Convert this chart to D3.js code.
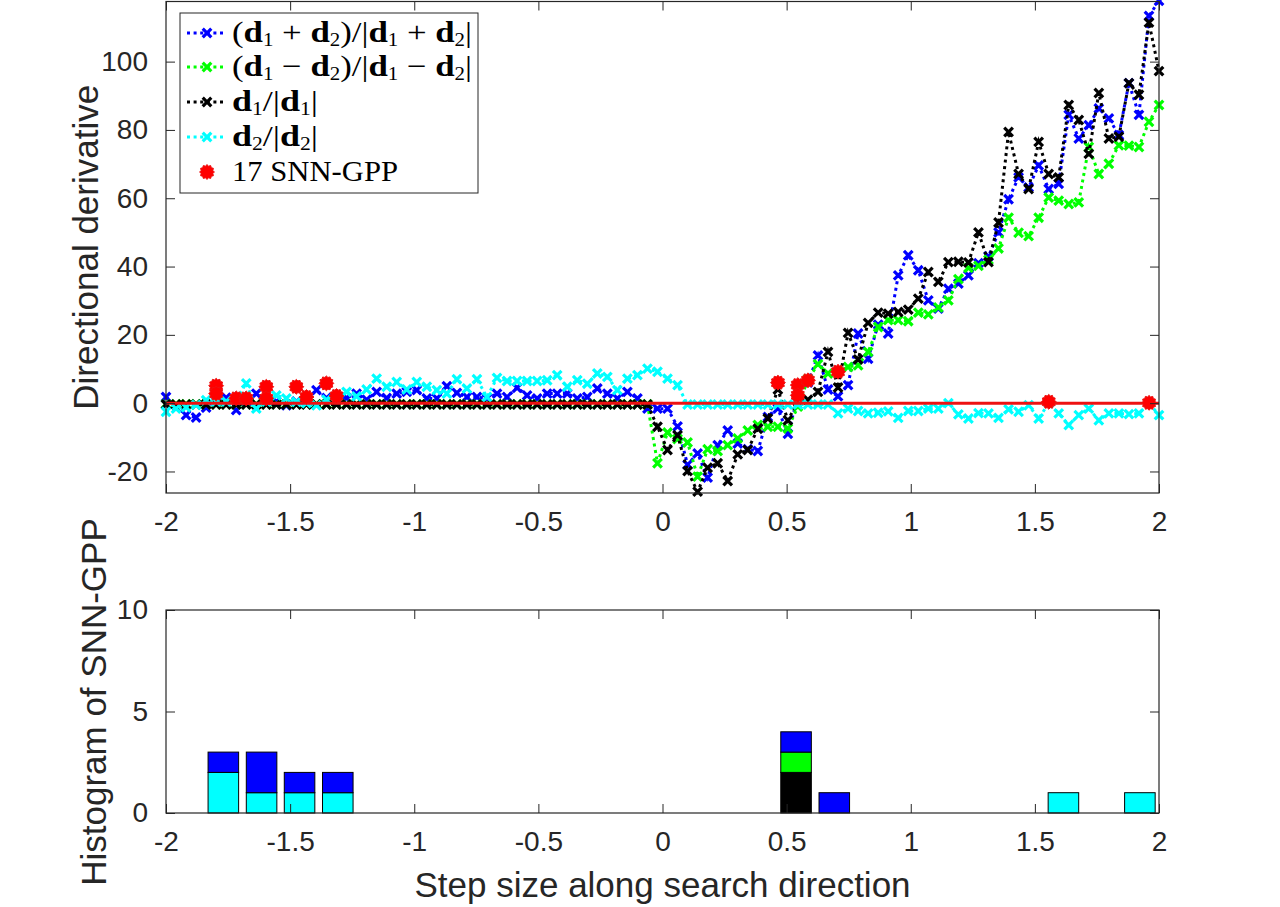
<!DOCTYPE html>
<html>
<head>
<meta charset="utf-8">
<script src="https://cdn.jsdelivr.net/npm/d3@7"></script>
<style>
  body { margin: 0; background: #fff; }
  svg { display: block; }
  text { font-family: "Liberation Sans", Arial, Helvetica, sans-serif; fill: #262626; }
</style>
</head>
<body>
<div id="chart"></div>
<script>
// step sizes along the search direction: linspace(-2, 2, 100)
const stepCount = 100;
const steps = d3.range(stepCount).map(k => -2 + 4 * k / (stepCount - 1));

// directional derivatives
const dirSum = [ // (d1+d2)/|d1+d2|
  1.8, -0.5, -3.5, -4.2, -1.3, 0.5, 1.6, -2, 0.5, 2.8,
  1, 0.5, -0.6, 0.5, 1, 3.8, 1.5, 1, 1.5, 2.8,
  1, 3.3, 1.5, 2.8, 3.3, 3.8, 1.4, 1.4, 5, 3,
  1.8, 1.8, 1.4, 2.8, 1.8, 4.5, 2.3, 1.4, 2.8, 2.8,
  2.8, 1.4, 1.8, 4.3, 2.8, 1.4, 3.3, 1.4, -1.6, -1.6,
  -1.6, -6.8, -18, -14.7, -21.8, -12.3, -8, -11.8, -13.5, -14,
  -4, -1.6, -9, 2, 6, 14, 4, 2, 5.3, 20.4,
  13, 23, 20.4, 37.4, 43.3, 38.9, 30.1, 27.7, 33.5, 35,
  37.4, 41, 43, 50, 59.7, 66.1, 63.2, 69.6, 62.7, 64.2,
  84.4, 77.5, 81.4, 86.3, 83.4, 78.5, 93.7, 84.4, 113.4, 117.8
];
const dirDiff = [ // (d1-d2)/|d1-d2|
  -0.3, -0.3, -0.3, -0.3, -0.3, -0.3, -0.3, -0.3, -0.3, -0.3,
  -0.3, -0.3, -0.3, -0.3, -0.3, -0.3, -0.3, -0.3, -0.3, -0.3,
  -0.3, -0.3, -0.3, -0.3, -0.3, -0.3, -0.3, -0.3, -0.3, -0.3,
  -0.3, -0.3, -0.3, -0.3, -0.3, -0.3, -0.3, -0.3, -0.3, -0.3,
  -0.3, -0.3, -0.3, -0.3, -0.3, -0.3, -0.3, -0.3, -0.3, -17.6,
  -8.6, -10.5, -11.5, -21.5, -13.5, -14, -12.3, -10.3, -8, -6.4,
  -6.9, -6.9, -7.4, -1, 7, 11.4, 8.7, 9.2, 10.6, 11.1,
  15, 22.3, 24.3, 24.3, 24, 26.5, 26, 28, 30.1, 36.3,
  39.6, 40.2, 42, 45.3, 54.3, 49.9, 48.9, 54.3, 60.2, 59.3,
  58.3, 58.8, 75, 67.1, 70.1, 75.5, 75.4, 75, 82.4, 87.3
];
const dirD1 = [ // d1/|d1|
  -0.4, -0.4, -0.4, -0.4, -0.4, -0.4, -0.4, -0.4, -0.4, -0.4,
  -0.4, -0.4, -0.4, -0.4, -0.4, -0.4, -0.4, -0.4, -0.4, -0.4,
  -0.4, -0.4, -0.4, -0.4, -0.4, -0.4, -0.4, -0.4, -0.4, -0.4,
  -0.4, -0.4, -0.4, -0.4, -0.4, -0.4, -0.4, -0.4, -0.4, -0.4,
  -0.4, -0.4, -0.4, -0.4, -0.4, -0.4, -0.4, -0.4, -0.4, -6.9,
  -13.7, -9.4, -19.9, -25.9, -18.9, -17.6, -22.8, -15, -13.7, -7.5,
  -4.5, 4, -5, 0.5, 1, 3.3, 15, 4.6, 20.6, 12.8,
  23.5, 26.5, 26.2, 26.7, 27.4, 30.6, 38.4, 35.5, 41.3, 41.4,
  41.2, 50, 41.3, 52.9, 79.4, 67.1, 62.7, 76.5, 67.1, 66.1,
  87.3, 82.9, 73, 90.8, 77.5, 78, 93.7, 90.3, 111.4, 97.2
];
const dirD2 = [ // d2/|d2|
  -2.5, -1.6, -1.2, -0.5, 0.9, 0.5, 0.5, 1, 5.8, -1.6,
  0.5, 2.3, 1.4, 0.4, 0, -0.6, 1, 2, 3.3, 2,
  4, 7.2, 4.8, 6.2, 4, 6.2, 4.8, 3.8, 2.8, 7,
  4.3, 7, 1.8, 7.4, 6.5, 6.5, 6.5, 6.5, 6.7, 8.2,
  4.8, 6.7, 5.7, 8.7, 7.7, 3.8, 7.2, 8.2, 10.1, 9.2,
  7.2, 5.3, -0.4, -0.4, -0.4, -0.4, -0.4, -0.4, -0.4, -0.4,
  -0.4, -0.4, -0.4, -0.4, -0.4, -0.4, -0.4, -3, -1.6, -2.3,
  -3, -2.8, -2.4, -4.3, -2.3, -2.3, -1.6, -1.6, 0, -3.3,
  -4.5, -2.9, -3, -4.3, -1.8, -2.5, -0.6, -4.5, 0, -3,
  -6.4, -3.5, -1.6, -5, -3, -3, -3.2, -3, 0, -3.5
];

// the 17 SNN-GPP locations
const snnStep = [-1.798, -1.798, -1.717, -1.677, -1.596, -1.596, -1.475, -1.434, -1.354, -1.313,
                 0.465, 0.545, 0.545, 0.586, 0.707, 1.556, 1.960];
const snnVal = [5.1, 2.8, 1.4, 1.4, 4.8, 1.4, 4.8, 1.8, 5.8, 2.1,
                6.0, 5.3, 2.3, 6.7, 9.2, 0.4, 0.1];

// histogram (26 bins over [-2, 2], only non-empty bins listed)
const histCenters = [-1.769, -1.615, -1.462, -1.308, 0.538, 0.692, 1.615, 1.923];
const histD2 = [2, 1, 1, 1, 0, 0, 1, 1];
const histD1 = [0, 0, 0, 0, 2, 0, 0, 0];
const histDiff = [0, 0, 0, 0, 1, 0, 0, 0];
const histSum = [1, 2, 1, 1, 1, 1, 0, 0];
const binWidth = 4 / 26;

const xTicks = [-2, -1.5, -1, -0.5, 0, 0.5, 1, 1.5, 2];
const yTicksTop = [-20, 0, 20, 40, 60, 80, 100];
const yTicksBot = [0, 5, 10];

const series = [
  { key: 'sum', values: dirSum, color: '#0000ff' },
  { key: 'diff', values: dirDiff, color: '#00ff00' },
  { key: 'd1', values: dirD1, color: '#000000' },
  { key: 'd2', values: dirD2, color: '#00ffff' }
];

const width = 1280, height = 907;
const axisColor = '#262626';
const tickFont = 28, labelFont = 35;

const svg = d3.select('#chart').append('svg')
  .attr('width', width)
  .attr('height', height)
  .attr('viewBox', [0, 0, width, height]);

const x = d3.scaleLinear().domain([-2, 2]).range([166, 1159]);
const yTop = d3.scaleLinear().domain([-26.3, 117.6]).range([493, 1.5]);
const yBot = d3.scaleLinear().domain([0, 10]).range([813, 610]);

const plainNum = d => String(d); // MATLAB style hyphen minus

function drawAxes(y, yTicks) {
  const [x0, x1] = x.range();
  const [y0, y1] = y.range();
  const tick = 9;
  const g = svg.append('g');

  g.append('g').attr('transform', `translate(0,${y0})`)
    .call(d3.axisBottom(x).tickValues(xTicks).tickSize(-tick).tickPadding(18).tickFormat(plainNum));
  g.append('g').attr('transform', `translate(${x0},0)`)
    .call(d3.axisLeft(y).tickValues(yTicks).tickSize(-tick).tickPadding(18).tickFormat(plainNum));
  g.append('g').attr('transform', `translate(0,${y1})`)
    .call(d3.axisTop(x).tickValues(xTicks).tickSize(-tick).tickFormat(''));
  g.append('g').attr('transform', `translate(${x1},0)`)
    .call(d3.axisRight(y).tickValues(yTicks).tickSize(-tick).tickFormat(''));

  g.selectAll('.domain').remove();
  g.selectAll('.tick line').attr('stroke', axisColor).attr('stroke-width', 1);
  g.selectAll('.tick text').attr('font-size', tickFont).attr('fill', axisColor)
    .style('font-family', '"Liberation Sans", Arial, sans-serif');

  g.append('rect')
    .attr('x', x0).attr('y', y1)
    .attr('width', x1 - x0).attr('height', y0 - y1)
    .attr('fill', 'none').attr('stroke', axisColor).attr('stroke-width', 1.2);
  return g;
}

// ---- top: directional derivative curves ----
const plotTop = svg.append('g');
const line = d3.line().x((d, i) => x(steps[i])).y(d => yTop(d));
const xMark = 'M-4.3,-4.3L4.3,4.3M-4.3,4.3L4.3,-4.3';

series.forEach(s => {
  const g = plotTop.append('g').attr('class', `series-${s.key}`);
  g.append('path')
    .datum(s.values)
    .attr('d', line)
    .attr('fill', 'none')
    .attr('stroke', s.color)
    .attr('stroke-width', 3)
    .attr('stroke-dasharray', '3 3.6');
  g.selectAll('path.mark')
    .data(s.values)
    .join('path')
    .attr('class', 'mark')
    .attr('d', xMark)
    .attr('transform', (d, i) => `translate(${x(steps[i])},${yTop(d)})`)
    .attr('stroke', s.color)
    .attr('stroke-width', 3.2)
    .attr('fill', 'none');
});

plotTop.append('line')
  .attr('x1', x(-2)).attr('x2', x(2))
  .attr('y1', yTop(0)).attr('y2', yTop(0))
  .attr('stroke', '#ee1111')
  .attr('stroke-width', 3);

function hexagram(r, ratio) {
  const pts = d3.range(24).map(i => {
    const a = Math.PI / 12 * i - Math.PI / 2;
    const rr = i % 2 === 0 ? r : r * ratio;
    return [rr * Math.cos(a), rr * Math.sin(a)];
  });
  return 'M' + pts.join('L') + 'Z';
}
const hexPath = hexagram(7.4, 0.82);

plotTop.selectAll('path.snn')
  .data(snnStep)
  .join('path')
  .attr('class', 'snn')
  .attr('d', hexPath)
  .attr('transform', (d, i) => `translate(${x(d)},${yTop(snnVal[i])})`)
  .attr('fill', '#ff0000')
  .attr('stroke', '#ee1111')
  .attr('stroke-width', 1);

drawAxes(yTop, yTicksTop);

// legend
const legendRows = [
  { color: '#0000ff', width: 240, parts: [['(', ''], ['d', 'b'], ['1', 's'], [' + ', ''], ['d', 'b'], ['2', 's'], [')/|', ''], ['d', 'b'], ['1', 's'], [' + ', ''], ['d', 'b'], ['2', 's'], ['|', '']] },
  { color: '#00ff00', width: 240, parts: [['(', ''], ['d', 'b'], ['1', 's'], [' \u2212 ', ''], ['d', 'b'], ['2', 's'], [')/|', ''], ['d', 'b'], ['1', 's'], [' \u2212 ', ''], ['d', 'b'], ['2', 's'], ['|', '']] },
  { color: '#000000', width: 86, parts: [['d', 'b'], ['1', 's'], ['/|', ''], ['d', 'b'], ['1', 's'], ['|', '']] },
  { color: '#00ffff', width: 86, parts: [['d', 'b'], ['2', 's'], ['/|', ''], ['d', 'b'], ['2', 's'], ['|', '']] },
  { color: '#ff0000', width: 166, marker: 'snn', parts: [['17 SNN-GPP', '']] }
];
const legendY = [33, 67, 102, 137, 172];

const legend = svg.append('g');
legend.append('rect')
  .attr('x', 180).attr('y', 13)
  .attr('width', 298).attr('height', 180)
  .attr('fill', '#fff').attr('stroke', axisColor).attr('stroke-width', 1);

legendRows.forEach((row, r) => {
  const cy = legendY[r];
  if (row.marker === 'snn') {
    legend.append('path').attr('d', hexPath)
      .attr('transform', `translate(207,${cy})`)
      .attr('fill', '#ff0000').attr('stroke', '#ee1111').attr('stroke-width', 1);
  } else {
    legend.append('line')
      .attr('x1', 187).attr('x2', 224).attr('y1', cy).attr('y2', cy)
      .attr('stroke', row.color).attr('stroke-width', 3).attr('stroke-dasharray', '3 3.6');
    legend.append('path').attr('d', xMark)
      .attr('transform', `translate(207,${cy})`)
      .attr('stroke', row.color).attr('stroke-width', 3.2).attr('fill', 'none');
  }
  const t = legend.append('text')
    .attr('x', 232).attr('y', cy + 9)
    .attr('font-size', 30)
    .style('font-family', '"Liberation Serif", "Times New Roman", serif')
    .style('fill', '#000')
    .attr('textLength', row.width)
    .attr('lengthAdjust', 'spacingAndGlyphs');
  let shifted = false;
  row.parts.forEach(([txt, kind]) => {
    const ts = t.append('tspan').text(txt);
    if (kind === 's') {
      ts.attr('font-size', 18).attr('dy', 4);
      shifted = true;
    } else {
      if (shifted) { ts.attr('dy', -4); shifted = false; }
      if (kind === 'b') ts.attr('font-weight', 'bold');
    }
  });
});

// ---- bottom: histogram of SNN-GPP ----
const stackKeys = ['d2', 'd1', 'diff', 'sum'];
const stackColors = { d2: '#00ffff', d1: '#000000', diff: '#00ff00', sum: '#0000ff' };
const histRows = histCenters.map((c, i) => ({
  center: c, d2: histD2[i], d1: histD1[i], diff: histDiff[i], sum: histSum[i]
}));
const stacked = d3.stack().keys(stackKeys)(histRows);
const barW = 0.8 * binWidth;

const plotBot = svg.append('g');
stacked.forEach(layer => {
  plotBot.selectAll(null)
    .data(layer.filter(d => d[1] > d[0]))
    .join('rect')
    .attr('x', d => x(d.data.center - barW / 2))
    .attr('width', d => x(d.data.center + barW / 2) - x(d.data.center - barW / 2))
    .attr('y', d => yBot(d[1]))
    .attr('height', d => yBot(d[0]) - yBot(d[1]))
    .attr('fill', stackColors[layer.key])
    .attr('stroke', '#000')
    .attr('stroke-width', 1);
});

drawAxes(yBot, yTicksBot);

// axis labels
svg.append('text')
  .attr('transform', `translate(98,${(yTop.range()[0] + yTop.range()[1]) / 2}) rotate(-90)`)
  .attr('text-anchor', 'middle')
  .attr('font-size', labelFont)
  .text('Directional derivative');

svg.append('text')
  .attr('transform', `translate(106,702) rotate(-90)`)
  .attr('text-anchor', 'middle')
  .attr('font-size', labelFont)
  .text('Histogram of SNN-GPP');

svg.append('text')
  .attr('x', (x.range()[0] + x.range()[1]) / 2)
  .attr('y', 897)
  .attr('text-anchor', 'middle')
  .attr('font-size', labelFont)
  .text('Step size along search direction');
</script>
</body>
</html>
